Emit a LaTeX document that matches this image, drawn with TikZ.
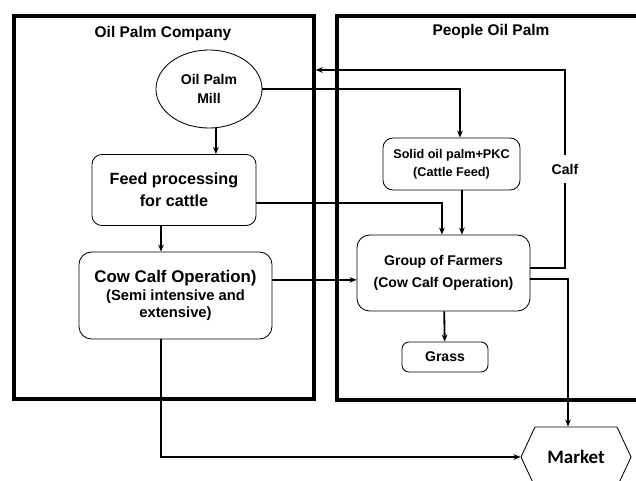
\documentclass[tikz,border=0pt]{standalone}
\usepackage{fontspec}
\setmainfont{Liberation Sans}
\newfontfamily\marketfont{Carlito}
\usetikzlibrary{shapes.geometric,shapes.symbols,arrows.meta}

\begin{document}
\begin{tikzpicture}[x=0.025cm,y=-0.025cm,
        frame/.style={draw,line width=2.4pt,inner sep=0pt},
        title/.style={font=\bfseries\fontsize{11}{13}\selectfont},
        box/.style={draw,rounded corners=7pt,line width=0.6pt,align=center,inner sep=1pt},
        arr/.style={-{Stealth[length=5pt,width=4pt]},line width=1.3pt}]
        \useasboundingbox (0,0) rectangle (636,480);
        \clip (0,0) rectangle (636,480);
        %aree
        \node[frame,minimum width=7.5cm,minimum height=9.575cm] (company) at (164,207.5) {};
        \node[frame,minimum width=7.825cm,minimum height=9.6cm] (people) at (493.5,208) {};
        \node[title] at (163,33) {Oil Palm Company};
        \node[title] at (491,32) {People Oil Palm};
        %nodi azienda
        \node[draw,ellipse,line width=0.6pt,minimum width=2.65cm,minimum height=1.95cm,inner sep=0pt,align=center,
            font=\bfseries\fontsize{10}{14}\selectfont] (mill) at (209,89) {Oil Palm\\Mill};
        \node[box,minimum width=4.1cm,minimum height=1.775cm,font=\bfseries\fontsize{11.5}{15.5}\selectfont]
            (feed) at (174,190) {Feed processing\\for cattle};
        \node[box,rounded corners=9pt,minimum width=4.825cm,minimum height=2.175cm,font=\bfseries\fontsize{10.5}{12.5}\selectfont]
            (cowcalf) at (175.5,295.5) {{\fontsize{12}{14}\selectfont Cow Calf Operation)}\\(Semi intensive and\\extensive)};
        %nodi contadini
        \node[box,minimum width=3.425cm,minimum height=1.3cm,font=\bfseries\fontsize{9}{13}\selectfont]
            (solid) at (451.5,164) {Solid oil palm+PKC\\(Cattle Feed)};
        \node[box,rounded corners=9pt,minimum width=4.325cm,minimum height=1.9cm,font=\bfseries\fontsize{10}{15.4}\selectfont]
            (group) at (443.5,273) {Group of Farmers\\(Cow Calf Operation)};
        \node[box,rounded corners=5pt,minimum width=2.15cm,minimum height=0.75cm,font=\bfseries\fontsize{10}{12}\selectfont]
            (grass) at (445,357) {Grass};
        \node[draw,signal,signal to=west and east,signal pointer angle=130,line width=0.6pt,minimum width=2.75cm,minimum height=1.5cm,
            inner sep=0pt,font=\marketfont\bfseries\fontsize{13.5}{16}\selectfont] (market) at (576,457) {Market};
        \coordinate (calfturn) at (565,70);
        %frecce
        \draw[arr] (mill.-80) -- (mill.-80 |- feed.north);
        \draw[arr] (mill.east) -| ([xshift=0.21cm]solid.north);
        \draw[arr] ([yshift=-0.325cm]feed.east) -| ([xshift=-0.04cm]group.north);
        \draw[arr] ([xshift=0.26cm]solid.south) -- ([xshift=0.26cm]solid.south |- group.north);
        \draw[arr] (feed.south -| 161,0) -- (161,0 |- cowcalf.north);
        \draw[arr] ([yshift=0.39cm]cowcalf.east) -- ([yshift=0.39cm]cowcalf.east -| group.west);
        \draw[arr] (group) -- (grass);
        \draw[arr] ([yshift=0.125cm]group.east) -| (calfturn)
            node[pos=0.75,fill=white,inner xsep=1pt,inner ysep=6pt,font=\bfseries\fontsize{10}{12}\selectfont] {Calf}
            -- (calfturn -| company.east);
        \draw[arr] ([yshift=-0.15cm]group.east) -| ([xshift=-0.2cm]market.north);
        \draw[arr] ([xshift=-0.36cm]cowcalf.south) |- (market.west);
    \end{tikzpicture}
\end{document}
